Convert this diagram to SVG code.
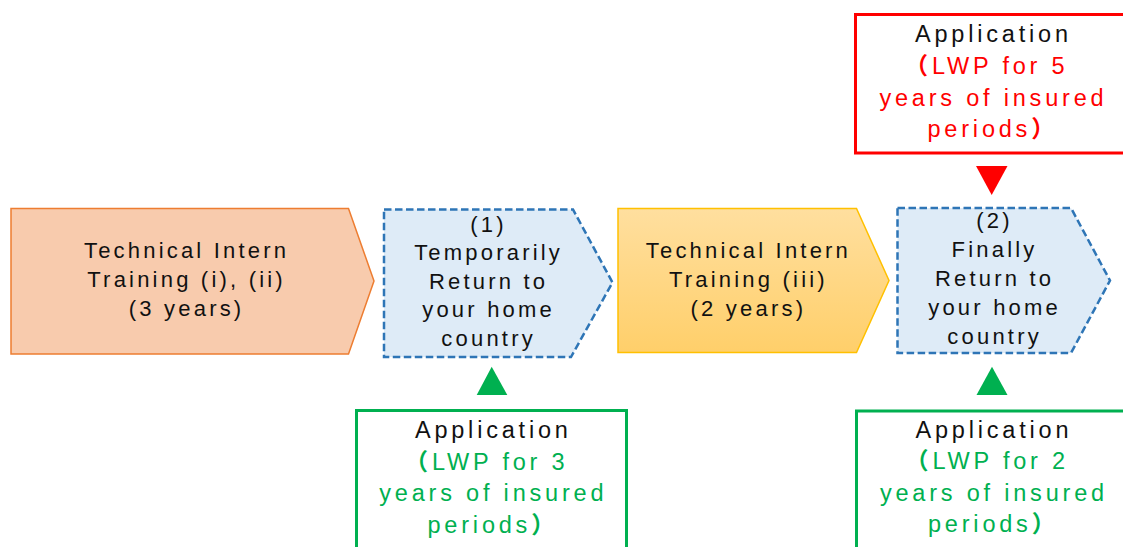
<svg xmlns="http://www.w3.org/2000/svg" width="1123" height="547" viewBox="0 0 1123 547">
<defs>
<linearGradient id="gy" x1="0" y1="0" x2="0" y2="1">
<stop offset="0" stop-color="#FFDF9F"/>
<stop offset="1" stop-color="#FFCF6A"/>
</linearGradient>
<style>
.t{font-family:"Liberation Sans",Arial,"Noto Sans CJK JP",sans-serif;font-size:22px;letter-spacing:3.2px;text-anchor:middle;fill:#111}
.a{font-family:"Liberation Sans",Arial,"Noto Sans CJK JP",sans-serif;font-size:23.5px;letter-spacing:3.8px;text-anchor:middle;fill:#111}
.r{fill:#FF0000}
.g{fill:#00B050}
.p{font-weight:bold}
.blue{fill:#DEEBF7;stroke:#2E75B6;stroke-width:2.5;stroke-dasharray:7.5 3.5}
</style>
</defs>
<rect width="1123" height="547" fill="#FFFFFF"/>
<g id="training12">
<polygon points="11,208.5 348.5,208.5 374,281 348.5,354 11,354" fill="#F8CBAD" stroke="#ED7D31" stroke-width="1.5"/>
<text class="t" x="186.6" y="257.5">Technical Intern</text>
<text class="t" x="186.6" y="286.5">Training (i), (ii)</text>
<text class="t" x="186.6" y="315.5">(3 years)</text>
</g>
<g id="return1">
<polygon class="blue" points="384,209.5 573,209.5 612.5,282.5 571,357 384,357"/>
<text class="t" x="488.6" y="231.5">(1)</text>
<text class="t" x="488.6" y="260">Temporarily</text>
<text class="t" x="488.6" y="288.5">Return to</text>
<text class="t" x="488.6" y="317">your home</text>
<text class="t" x="488.6" y="345.5">country</text>
</g>
<g id="training3">
<polygon points="618,208.5 856.5,208.5 889,280.5 856.5,352.5 618,352.5" fill="url(#gy)" stroke="#FFC000" stroke-width="1.5"/>
<text class="t" x="748.4" y="257.5">Technical Intern</text>
<text class="t" x="748.4" y="286.5">Training (iii)</text>
<text class="t" x="748.4" y="315.5">(2 years)</text>
</g>
<g id="return2">
<polygon class="blue" points="897.5,208 1071,208 1110,280.5 1071,353 897.5,353"/>
<text class="t" x="994.6" y="228.3">(2)</text>
<text class="t" x="994.6" y="257.3">Finally</text>
<text class="t" x="994.6" y="286.3">Return to</text>
<text class="t" x="994.6" y="315.3">your home</text>
<text class="t" x="994.6" y="344.3">country</text>
</g>
<g id="app5">
<rect x="855.5" y="14.5" width="300" height="138.5" fill="#FFFFFF" stroke="#FF0000" stroke-width="3"/>
<text class="a" x="993.4" y="42.3">Application</text>
<text class="a r" x="986.5" y="74"><tspan class="p">（</tspan>LWP for 5</text>
<text class="a r" x="993.4" y="105.5">years of insured</text>
<text class="a r" x="993" y="137">periods<tspan class="p">）</tspan></text>
</g>
<g id="app3">
<rect x="356.5" y="410.5" width="270" height="160" fill="#FFFFFF" stroke="#00B050" stroke-width="3"/>
<text class="a" x="493.3" y="438">Application</text>
<text class="a g" x="486.5" y="469.5"><tspan class="p">（</tspan>LWP for 3</text>
<text class="a g" x="493.3" y="501">years of insured</text>
<text class="a g" x="493" y="532.5">periods<tspan class="p">）</tspan></text>
</g>
<g id="app2">
<rect x="856.5" y="411" width="300" height="160" fill="#FFFFFF" stroke="#00B050" stroke-width="3"/>
<text class="a" x="993.9" y="437.5">Application</text>
<text class="a g" x="987" y="469"><tspan class="p">（</tspan>LWP for 2</text>
<text class="a g" x="993.9" y="500.5">years of insured</text>
<text class="a g" x="993.5" y="532">periods<tspan class="p">）</tspan></text>
</g>
<g id="connectors">
<polygon points="976,166 1007.5,166 991.7,195" fill="#FF0000"/>
<polygon points="476.7,395 507.3,395 491.7,366.7" fill="#00B050"/>
<polygon points="976.5,395 1007.5,395 992,366.7" fill="#00B050"/>
</g>
</svg>
